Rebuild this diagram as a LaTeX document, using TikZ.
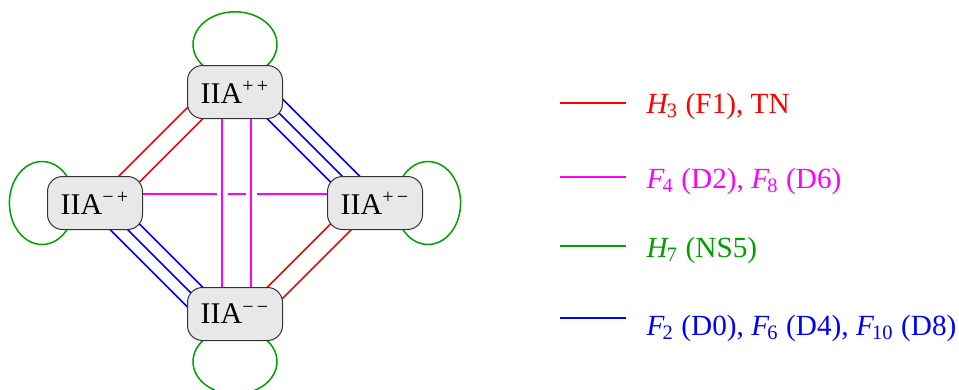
\documentclass[tikz,border=0pt]{standalone}
\usepackage{fontspec}
\setmainfont{Liberation Serif}
\usetikzlibrary{calc,backgrounds}
\definecolor{nsgreen}{RGB}{0,160,0}
\definecolor{dmag}{RGB}{255,0,255}
\definecolor{fred}{RGB}{255,0,0}
\definecolor{dblue}{RGB}{0,0,255}
\newcommand{\fld}[2]{\textit{#1}\kern-0.8pt\textsubscript{#2}}

\begin{document}
\begin{tikzpicture}[x=0.4pt,y=0.4pt,
  iia/.style={draw=black!80,fill=black!9,rounded corners=6pt,line width=0.4pt,
    minimum width=38pt,minimum height=21.2pt,inner sep=0pt,font=\fontsize{12}{14}\selectfont},
  fone/.style={fred,line width=0.6pt},
  dtwo/.style={dmag,line width=0.6pt},
  dtwox/.style={dtwo,preaction={draw=white,line width=4.4pt}},
  nsfive/.style={nsgreen,line width=0.6pt},
  dzero/.style={dblue,line width=0.6pt},
  lbl/.style={anchor=base west,inner sep=0pt,font=\fontsize{11.7}{14}\selectfont}]
\useasboundingbox (0,0) rectangle (959,389);
% the four theories
\node[iia] (pp) at (235,297) {IIA\textsuperscript{+\,+}};
\node[iia] (mp) at (95,186) {IIA\textsuperscript{−\,+}};
\node[iia] (pm) at (375,186) {IIA\textsuperscript{+\,−}};
\node[iia] (mm) at (235,75) {IIA\textsuperscript{−\,−}};
\begin{pgfonlayer}{background}
% NS5 loops
\draw[nsfive] ($(pp)+(0,47.6)$) ellipse [x radius=42, y radius=32.6];
\draw[nsfive] ($(mm)+(0,-47.6)$) ellipse [x radius=42, y radius=32.6];
\draw[nsfive] ($(mp)+(-53,0)$) ellipse [x radius=32.6, y radius=41.5];
\draw[nsfive] ($(pm)+(53,0)$) ellipse [x radius=32.6, y radius=41.5];
% F1
\draw[fone] ($(pp)+(-32,0)$) -- ($(mp)+(-3,0)$);
\draw[fone] ($(pp)+(-5.5,0)$) -- ($(mp)+(23.5,0)$);
\draw[fone] ($(pm)+(3,0)$) -- ($(mm)+(32,0)$);
\draw[fone] ($(pm)+(-23.5,0)$) -- ($(mm)+(5.5,0)$);
% D0, D4, D8
\draw[dzero] ($(pp)+(40.5,0)$) -- ($(pm)+(11.5,0)$);
\draw[dzero] ($(pp)+(23,0)$) -- ($(pm)+(-6,0)$);
\draw[dzero] ($(pp)+(5.5,0)$) -- ($(pm)+(-23.5,0)$);
\draw[dzero] ($(mp)+(-11.5,0)$) -- ($(mm)+(-40.5,0)$);
\draw[dzero] ($(mp)+(6,0)$) -- ($(mm)+(-23,0)$);
\draw[dzero] ($(mp)+(23.5,0)$) -- ($(mm)+(-5.5,0)$);
% D2, D6
\draw[dtwo] ($(mp)+(0,9)$) -- ($(pm)+(0,9)$);
\draw[dtwox] ($(pp)+(-13,0)$) -- ($(mm)+(-13,0)$);
\draw[dtwox] ($(pp)+(16,0)$) -- ($(mm)+(16,0)$);
\end{pgfonlayer}
% legend
\coordinate (h3a) at (560,286);
\coordinate (h3b) at (626,286);
\draw[fone] (h3a) -- (h3b);
\node[lbl,fred] (h3) at (646,276) {\fld{H}{3} (F1), TN};
\coordinate (f4a) at (560,212);
\coordinate (f4b) at (626,212);
\draw[dtwo] (f4a) -- (f4b);
\node[lbl,dmag] (f4) at (646,201) {\fld{F}{4} (D2), \fld{F}{8} (D6)};
\coordinate (h7a) at (560,143);
\coordinate (h7b) at (626,143);
\draw[nsfive] (h7a) -- (h7b);
\node[lbl,nsgreen] (h7) at (646,132) {\fld{H}{7} (NS5)};
\coordinate (f2a) at (560,71);
\coordinate (f2b) at (626,71);
\draw[dzero] (f2a) -- (f2b);
\node[lbl,dblue] (f2) at (646,54) {\fld{F}{2} (D0), \fld{F}{6} (D4), \fld{F}{10} (D8)};
\end{tikzpicture}
\end{document}
